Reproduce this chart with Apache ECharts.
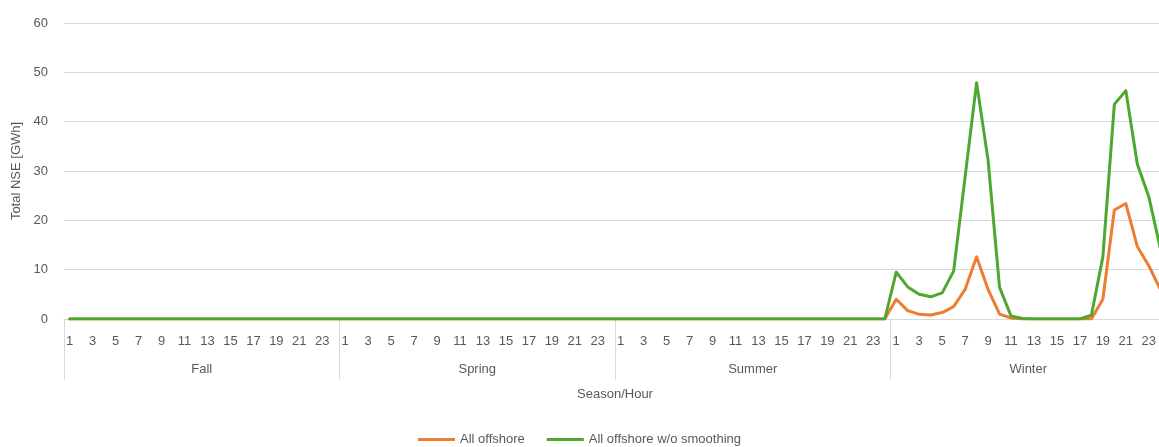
<!DOCTYPE html>
<html>
<head>
<meta charset="utf-8">
<script src="https://cdn.jsdelivr.net/npm/echarts@6/dist/echarts.min.js"></script>
<style>
  html, body { margin: 0; padding: 0; background: #ffffff; }
  #chart { width: 1159px; height: 447px; }
</style>
</head>
<body>
<div id="chart"></div>
<script>
// Seasons and the hours within each season
const seasons = ['Fall', 'Spring', 'Summer', 'Winter'];
const hours = [1,2,3,4,5,6,7,8,9,10,11,12,13,14,15,16,17,18,19,20,21,22,23,24];

// Total non-served energy [GWh], all offshore (smoothed)
const offshoreFall   = [0,0,0,0,0,0,0,0,0,0,0,0,0,0,0,0,0,0,0,0,0,0,0,0];
const offshoreSpring = [0,0,0,0,0,0,0,0,0,0,0,0,0,0,0,0,0,0,0,0,0,0,0,0];
const offshoreSummer = [0,0,0,0,0,0,0,0,0,0,0,0,0,0,0,0,0,0,0,0,0,0,0,0];
const offshoreWinter = [4.0,1.7,0.95,0.8,1.3,2.5,6.0,12.6,6.0,1.0,0.2,0,0,0,0,0,0,0,4.0,22.1,23.4,14.7,10.8,6.0];

// Total non-served energy [GWh], all offshore without smoothing
const noSmoothFall   = [0,0,0,0,0,0,0,0,0,0,0,0,0,0,0,0,0,0,0,0,0,0,0,0];
const noSmoothSpring = [0,0,0,0,0,0,0,0,0,0,0,0,0,0,0,0,0,0,0,0,0,0,0,0];
const noSmoothSummer = [0,0,0,0,0,0,0,0,0,0,0,0,0,0,0,0,0,0,0,0,0,0,0,0];
const noSmoothWinter = [9.5,6.5,5.0,4.5,5.3,9.7,28.8,47.9,32.2,6.4,0.6,0.1,0,0,0,0,0,0.75,12.6,43.5,46.3,31.4,24.8,14.4];

const yTicks = { min: 0, max: 60, interval: 10 };

const hourCategories = [];
seasons.forEach(s => hours.forEach(h => hourCategories.push(s + '-' + h)));
const hourLabel = v => v.split('-')[1];

const offshore = [].concat(offshoreFall, offshoreSpring, offshoreSummer, offshoreWinter);
const noSmooth = [].concat(noSmoothFall, noSmoothSpring, noSmoothSummer, noSmoothWinter);

const FONT = 'Liberation Sans';
const TXT = '#595959';
const GRIDC = '#d9d9d9';

const chart = echarts.init(document.getElementById('chart'), null, { renderer: 'canvas' });
chart.setOption({
  animation: false,
  backgroundColor: '#ffffff',
  textStyle: { fontFamily: FONT },
  // plot area runs a little past the right edge of the canvas
  grid: { left: 64, width: 1102, top: 23, bottom: 128, outerBoundsMode: 'none', containLabel: false },
  legend: {
    top: 428,
    left: 'center',
    icon: 'rect',
    itemWidth: 37,
    itemHeight: 3,
    itemGap: 22,
    textStyle: { fontFamily: FONT, fontSize: 13, color: TXT },
    data: ['All offshore', 'All offshore w/o smoothing']
  },
  xAxis: [
    {
      type: 'category',
      data: hourCategories,
      boundaryGap: true,
      axisLine: { show: true, lineStyle: { color: GRIDC, width: 1 } },
      axisTick: { show: false },
      axisLabel: {
        interval: 1,
        margin: 16,
        fontSize: 13,
        color: TXT,
        fontFamily: FONT,
        formatter: hourLabel
      },
      splitLine: { show: false }
    },
    {
      type: 'category',
      data: seasons,
      position: 'bottom',
      boundaryGap: true,
      axisLine: { show: false },
      axisTick: { show: true, interval: 0, length: 61, lineStyle: { color: GRIDC, width: 1 } },
      axisLabel: { interval: 0, margin: 44, fontSize: 13, color: TXT, fontFamily: FONT },
      splitLine: { show: false },
      name: 'Season/Hour',
      nameLocation: 'middle',
      nameGap: 69,
      nameTextStyle: { fontSize: 13, color: TXT, fontFamily: FONT }
    }
  ],
  yAxis: {
    type: 'value',
    min: yTicks.min,
    max: yTicks.max,
    interval: yTicks.interval,
    axisLine: { show: false },
    axisTick: { show: false },
    axisLabel: { margin: 16, fontSize: 13, color: TXT, fontFamily: FONT },
    splitLine: { lineStyle: { color: GRIDC, width: 1 } },
    name: 'Total NSE [GWh]',
    nameLocation: 'middle',
    nameGap: 36,
    nameTextStyle: { fontSize: 13, color: TXT, fontFamily: FONT }
  },
  series: [
    {
      name: 'All offshore',
      type: 'line',
      xAxisIndex: 0,
      data: offshore,
      showSymbol: false,
      symbol: 'none',
      itemStyle: { color: '#ED7D31' },
      lineStyle: { color: '#ED7D31', width: 3, cap: 'round', join: 'round' },
      z: 2
    },
    {
      name: 'All offshore w/o smoothing',
      type: 'line',
      xAxisIndex: 0,
      data: noSmooth,
      showSymbol: false,
      symbol: 'none',
      itemStyle: { color: '#4EA72E' },
      lineStyle: { color: '#4EA72E', width: 3, cap: 'round', join: 'round' },
      z: 3
    }
  ]
});
</script>
</body>
</html>
